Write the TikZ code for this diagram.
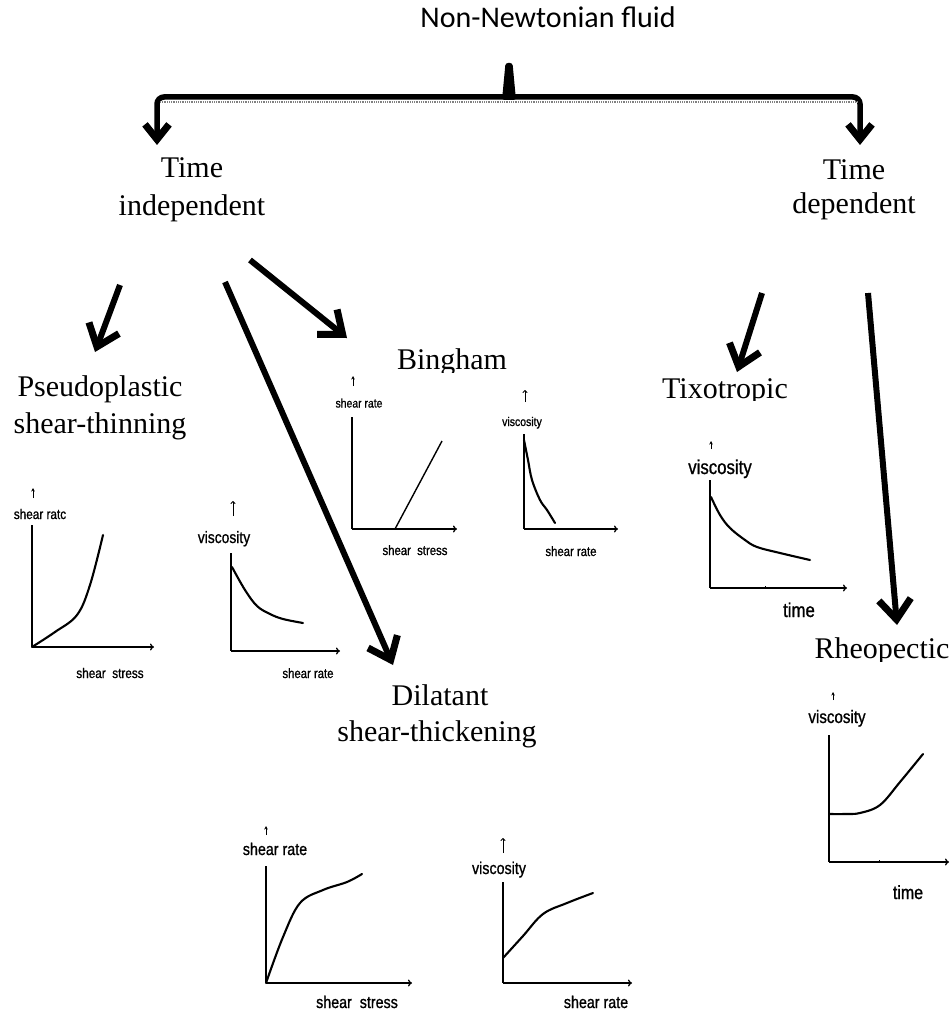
\documentclass[tikz,border=0pt]{standalone}
\usepackage{fontspec}
\setmainfont{Liberation Serif}
\newfontfamily\titlefont{Carlito}
\newfontfamily\axfont[FakeStretch=0.84,FakeBold=0.9]{Liberation Sans}
\usetikzlibrary{arrows.meta}
\tikzset{
  big/.style={font=\fontsize{30}{30}\selectfont, anchor=base, inner sep=0pt},
  albl/.style={font={\fontsize{#1}{#1}\axfont}, anchor=base, inner sep=0pt},
  ax/.style={line width=1.3pt},
  axx/.style={line width=1.3pt, -{To[length=4pt,width=7pt]}},
  crv/.style={line width=2.1pt, line cap=round, line join=round},
  smallup/.style={line width=0.9pt, -{Stealth[length=3.5pt,width=3.5pt]}},
  thinup/.style={line width=0.9pt, -{To[length=3pt,width=5pt]}},
  fatarrow/.style={line width=6pt, -{Straight Barb[length=20pt,width=32pt,line width=7pt]}},
  bracestyle/.style={line width=5.5pt, rounded corners=7pt,
     {Straight Barb[length=15pt,width=24pt,line width=7pt]}-{Straight Barb[length=15pt,width=24pt,line width=7pt]}},
}
\begin{document}
\begin{tikzpicture}[x=1pt,y=-1pt]
\useasboundingbox (0,0) rectangle (951,1011);
\fill[white] (0,0) rectangle (951,1011);

% ---------- title and brace ----------
\node[font=\fontsize{30}{30}\titlefont, anchor=base, inner sep=0pt] (title) at (548,28) {Non-Newtonian fluid};
\coordinate (bL) at (157,145);
\coordinate (bLc) at (157,97);
\coordinate (bRc) at (860,97);
\coordinate (bR) at (860,145);
\draw[bracestyle] (bL) -- (bLc) -- (bRc) -- (bR);
\draw[gray, line width=1.6pt, dash pattern=on 0.9pt off 0.9pt] (160,101.8) -- (857,101.8);
\fill[rounded corners=2.5pt] (502,100) -- (505.5,63) -- (512.5,63) -- (516,100) -- cycle;

% ---------- second level ----------
\node[big] (ti1) at (192,178) {Time};
\node[big] (ti2) at (192,215) {independent};
\node[big] (td1) at (854,180) {Time};
\node[big] (td2) at (854,213) {dependent};

% ---------- branch arrows ----------
\coordinate (a1s) at (120,285); \coordinate (a1e) at (95,352);
\coordinate (a2s) at (250,260); \coordinate (a2e) at (347,338);
\coordinate (a3s) at (225,282); \coordinate (a3e) at (393,665);
\coordinate (a4s) at (762,293); \coordinate (a4e) at (737,372);
\coordinate (a5s) at (868,293); \coordinate (a5e) at (897,625);
\draw[fatarrow] (a1s) -- (a1e);
\draw[fatarrow] (a2s) -- (a2e);
\draw[fatarrow] (a3s) -- (a3e);
\draw[fatarrow] (a4s) -- (a4e);
\draw[fatarrow] (a5s) -- (a5e);

% ---------- category labels ----------
\node[big] (ps1) at (100,396) {Pseudoplastic};
\node[big] (ps2) at (100,433) {shear-thinning};
\begin{scope}
  \clip (380,330) rectangle (530,372);
  \node[big] (bing) at (452,369) {Bingham};
\end{scope}
\begin{scope}
  \clip (650,370) rectangle (800,400);
  \node[big] (tixo) at (725,398) {Tixotropic};
\end{scope}
\begin{scope}
  \clip (800,625) rectangle (951,661);
  \node[big] (rheo) at (882,658) {Rheopectic};
\end{scope}
\node[big] (dil1) at (440,705) {Dilatant};
\node[big] (dil2) at (437,741) {shear-thickening};

% ---------- chart A: pseudoplastic, shear rate vs shear stress ----------
\draw[smallup] (33,498) -- (33,488);
\node[albl=14] (Ay) at (40,519) {shear ratc};
\draw[ax] (32,525) -- (32,647);
\draw[axx] (32,647) -- (154,647);
\draw[crv] plot[smooth, tension=0.6] coordinates {(32,647) (55,632) (77,615) (90,585) (103,535)};
\node[albl=14] (Ax) at (110,678) {shear~ stress};

% ---------- chart B: pseudoplastic, viscosity vs shear rate ----------
\draw[thinup] (233,516) -- (233,501);
\node[albl=16.5] (By) at (224,543) {viscosity};
\draw[ax] (231,553) -- (231,651);
\draw[axx] (231,651) -- (340,651);
\draw[crv] plot[smooth, tension=0.6] coordinates {(232,567) (245,590) (257,606) (270,614) (283,619) (303,623)};
\node[albl=13.5] (Bx) at (308,678) {shear rate};

% ---------- chart C: Bingham, shear rate vs shear stress ----------
\draw[smallup] (353,386) -- (353,376);
\node[albl=12.4] (Cy) at (359,407.5) {shear rate};
\draw[ax] (352,417) -- (352,529);
\draw[axx] (352,529) -- (457,529);
\draw[line width=1.4pt] (395,529) -- (442,441);
\node[albl=13.5] (Cx) at (415,555) {shear~ stress};

% ---------- chart D: Bingham, viscosity vs shear rate ----------
\draw[thinup] (525,402) -- (525,390);
\node[albl=12.5] (Dy) at (522,426) {viscosity};
\draw[ax] (524,434) -- (524,529);
\draw[axx] (524,529) -- (618,529);
\draw[crv] plot[smooth, tension=0.6] coordinates {(524,440) (528,460) (532,480) (540,500) (547,510) (555,523)};
\node[albl=13.5] (Dx) at (571,556) {shear rate};

% ---------- chart E: thixotropic, viscosity vs time ----------
\draw[smallup] (711,449) -- (711,441);
\node[albl=20] (Ey) at (720,474) {viscosity};
\draw[ax] (710,480) -- (710,588);
\draw[axx] (710,588) -- (847,588);
\draw[line width=0.8pt] (765,588) -- (765,586);
\draw[crv] plot[smooth, tension=0.6] coordinates {(711,497) (720,515) (730,528) (745,540) (757,547) (780,553) (810,560)};
\node[albl=20] (Ex) at (799,617) {time};

% ---------- chart F: rheopectic, viscosity vs time ----------
\draw[smallup] (833,700) -- (833,692);
\node[albl=18] (Fy) at (837,723) {viscosity};
\draw[ax] (829,735) -- (829,862);
\draw[axx] (829,862) -- (949,862);
\draw[line width=0.8pt] (879,862) -- (879,860);
\draw[crv] plot[smooth, tension=0.6] coordinates {(830,814) (845,814) (860,813) (880,805) (900,782) (923,754)};
\node[albl=19] (Fx) at (908,899) {time};

% ---------- chart G: dilatant, shear rate vs shear stress ----------
\draw[smallup] (266,835) -- (266,826);
\node[albl=17] (Gy) at (275,855) {shear rate};
\draw[ax] (266,866) -- (266,983);
\draw[axx] (266,983) -- (412,983);
\draw[crv] plot[smooth, tension=0.6] coordinates {(266,983) (283,937) (300,903) (323,890) (347,882) (362,874)};
\node[albl=17] (Gx) at (357,1008) {shear~ stress};

% ---------- chart H: dilatant, viscosity vs shear rate ----------
\draw[thinup] (503,853) -- (503,838);
\node[albl=17] (Hy) at (499,874) {viscosity};
\draw[ax] (503,882) -- (503,983);
\draw[axx] (503,983) -- (632,983);
\draw[crv] plot[smooth, tension=0.6] coordinates {(503,958) (523,936) (543,914) (567,903) (593,893)};
\node[albl=17] (Hx) at (596,1008) {shear rate};
\end{tikzpicture}
\end{document}
